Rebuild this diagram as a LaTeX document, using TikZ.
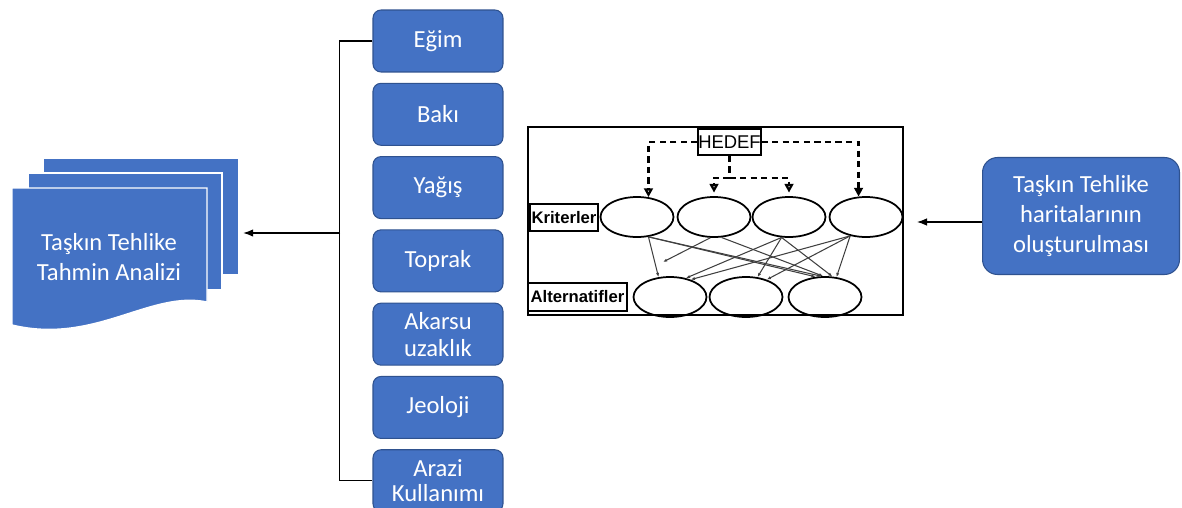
\documentclass[tikz,border=0pt]{standalone}
\usepackage{fontspec}
\setmainfont{Carlito}
\newfontfamily\ahpfont{Liberation Sans}
\usetikzlibrary{arrows.meta,positioning,shapes.geometric}
\definecolor{Box}{HTML}{4472C4}
\definecolor{BoxLine}{HTML}{2F528F}
\definecolor{Wire}{HTML}{404040}

\begin{document}
\begin{tikzpicture}[x=0.02cm,y=-0.02cm,node distance=0.205cm,>=Latex,
  factor/.style={draw=BoxLine,fill=Box,text=white,rounded corners=0.16cm,line width=0.6pt,
    minimum width=2.6cm,minimum height=1.24cm,align=center,font=\fontsize{14}{15.5}\selectfont},
  sheet/.style={draw=white,fill=Box,line width=0.8pt,inner sep=0pt},
  crit/.style={ellipse,draw,line width=1pt,minimum width=1.46cm,minimum height=0.8cm,inner sep=0pt},
  tag/.style={draw,line width=1pt,inner sep=1pt,font=\ahpfont\bfseries\fontsize{9.5}{11}\selectfont},
  goal/.style={dashed,dash pattern=on 3.5pt off 2.5pt,line width=1.3pt},
  wire/.style={Wire,line width=0.6pt,-{Latex[length=2.4pt,width=1.8pt]}}]
  \useasboundingbox (0,0) rectangle (1182,507);

  \node[sheet,minimum width=3.92cm,minimum height=2.34cm] (back) at (141,216.5) {};
  \node[sheet,minimum width=3.88cm,minimum height=2.34cm] (mid) at (125,231.5) {};
  \draw[sheet] (12,188) -- (207,188) -- (207,302) .. controls (150,290) and (95,345) .. (12,325) -- cycle;
  \node[text=white,align=center,font=\fontsize{14}{17}\selectfont] (doc) at (109,257) {Taşkın Tehlike\\Tahmin Analizi};

  \node[factor] (egim) at (438,41) {Eğim};
  \node[factor,below=of egim] (baki) {Bakı};
  \node[factor,below=of baki] (yagis) {Yağış};
  \node[factor,below=of yagis] (toprak) {Toprak};
  \node[factor,below=of toprak] (akarsu) {Akarsu\\uzaklık};
  \node[factor,below=of akarsu] (jeoloji) {Jeoloji};
  \node[factor,below=of jeoloji,font=\fontsize{14}{14.5}\selectfont] (arazi) {Arazi\\Kullanımı};

  \draw[line width=0.8pt] (egim.west) -- ++(-33,0) |- (arazi.west);
  \coordinate (bar) at (340,233);
  \draw[->,line width=0.6pt,shorten >=2pt] (bar) -- (bar -| back.east);

  \node[draw,line width=1.5pt,minimum width=7.5cm,minimum height=3.76cm] (ahp) at (715.5,221) {};
  \node[draw,line width=1pt,minimum width=1.18cm,minimum height=0.52cm,inner sep=0pt,font=\ahpfont\fontsize{10.5}{12}\selectfont] (hedef) at (729.5,142) {HEDEF};
  \node[crit] (k1) at (637,217) {};
  \node[crit] (k2) at (714,217) {};
  \node[crit] (k3) at (789,217) {};
  \node[crit] (k4) at (866,217) {};
  \node[crit] (a1) at (670,297) {};
  \node[crit] (a2) at (746,297) {};
  \node[crit] (a3) at (825,297) {};
  \node[tag,minimum width=1.32cm,minimum height=0.54cm] (krit) at (564,217.5) {Kriterler};
  \node[tag,minimum width=1.98cm,minimum height=0.56cm] (alt) at (577.5,297) {Alternatifler};

  \draw[goal,-{Triangle[open,length=5pt,width=5pt]}] (hedef.west) -| (k1.60);
  \draw[goal,-{Triangle[length=5pt,width=5pt]}] (hedef.east) -| (k4.110);
  \draw[goal] (hedef.south) -- ++(0,22) coordinate (split);
  \draw[goal,-{Triangle[open,length=5pt,width=5pt]},shorten >=2pt] (split) -| (k2.north);
  \draw[goal,-{Triangle[open,length=5pt,width=5pt]},shorten >=2pt] (split) -| (k3.north);

  \coordinate (dot) at (663,262);
  \draw[wire] (k1.-60) -- (a1.120);
  \draw[wire] (k1.-60) -- (a3.115);
  \draw[wire] (k1.-60) -- (a3.100);
  \draw[wire] (k2.-100) -- (dot);
  \draw[wire] (k2.-70) -- (a3.95);
  \draw[wire] (k3.-110) -- (a1.50);
  \draw[wire] (k3.-110) -- (a2.60);
  \draw[wire] (k3.-110) -- (a3.70);
  \draw[wire] (k4.-130) -- (a1.40);
  \draw[wire] (k4.-130) -- (a2.40);
  \draw[wire] (k4.-130) -- (a3.60);

  \node[factor,rounded corners=0.3cm,minimum width=3.94cm,minimum height=2.34cm,font=\fontsize{14}{17}\selectfont] (hz) at (1081,216) {Taşkın Tehlike\\haritalarının\\oluşturulması};
  \coordinate (tip) at (917,222);
  \draw[->,line width=0.6pt] (hz.west |- tip) -- (tip);
\end{tikzpicture}
\end{document}
